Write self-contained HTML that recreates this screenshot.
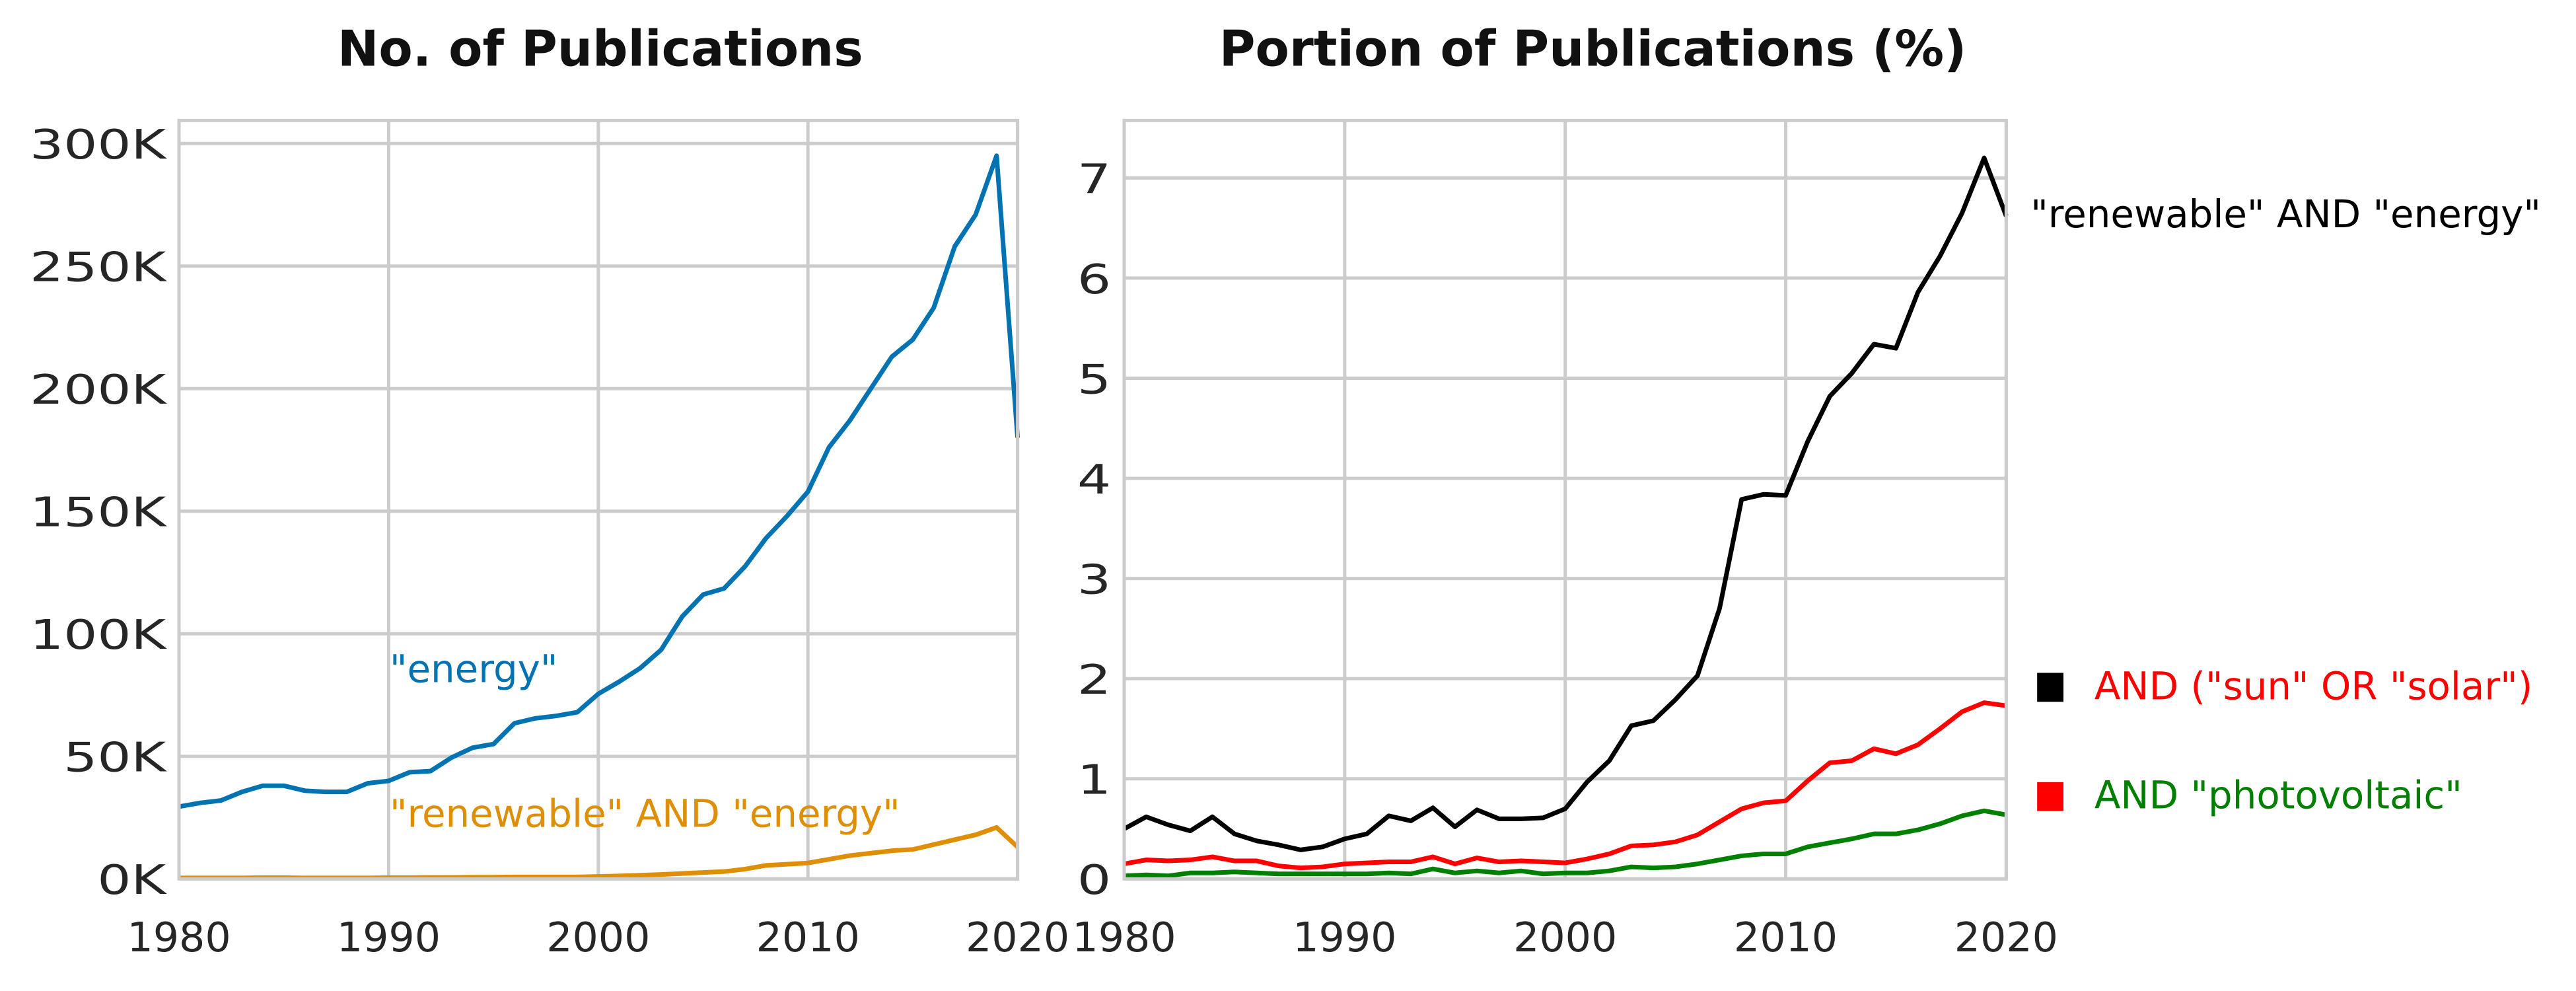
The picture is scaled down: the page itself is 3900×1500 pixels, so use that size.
<!DOCTYPE html>
<html><head><meta charset="utf-8"><style>
html,body{margin:0;padding:0;background:#fff;}
svg{display:block;font-family:"DejaVu Sans","Liberation Sans",sans-serif;}
</style></head><body>
<svg width="3900" height="1500" viewBox="0 0 3900 1500" xmlns="http://www.w3.org/2000/svg">
<g id="chart" transform="scale(0.9965)">
<text x="912" y="100" text-anchor="middle" font-size="75" font-weight="bold" fill="#111">No. of Publications</text>
<text x="2420" y="100" text-anchor="middle" font-size="75" font-weight="bold" fill="#111">Portion of Publications (%)</text>
<g id="left"></g>
<g id="right"></g>
</g>
</svg>
<script>
const years = [];
for (let y = 1980; y <= 2020; y++) years.push(y);
const energyK = [29.5,31,32,35.5,38,38,36,35.5,35.5,39,40,43.5,44,49.5,53.5,55,63.5,65.5,66.5,68,75.5,80.5,86,93.5,107,116,118.5,127.5,139,148,158,176,187,200,213,220,233,258,271,295,180];
const renewableK = [0.4,0.4,0.4,0.4,0.5,0.5,0.4,0.4,0.4,0.4,0.5,0.5,0.6,0.6,0.7,0.7,0.8,0.8,0.8,0.8,1,1.2,1.5,1.8,2.2,2.6,3,4,5.5,6,6.5,8,9.5,10.5,11.5,12,14,16,18,21,13];
const pctRenewable = [0.5,0.62,0.54,0.48,0.62,0.45,0.38,0.34,0.29,0.32,0.4,0.45,0.63,0.58,0.71,0.52,0.69,0.6,0.6,0.61,0.7,0.97,1.18,1.53,1.58,1.79,2.03,2.7,3.79,3.84,3.83,4.37,4.82,5.05,5.34,5.3,5.86,6.22,6.65,7.2,6.62];
const pctSolar = [0.15,0.19,0.18,0.19,0.22,0.18,0.18,0.13,0.11,0.12,0.15,0.16,0.17,0.17,0.22,0.15,0.21,0.17,0.18,0.17,0.16,0.2,0.25,0.33,0.34,0.37,0.44,0.57,0.7,0.76,0.78,0.98,1.16,1.18,1.3,1.25,1.34,1.5,1.67,1.76,1.73];
const pctPV = [0.03,0.04,0.03,0.06,0.06,0.07,0.06,0.05,0.05,0.05,0.05,0.05,0.06,0.05,0.1,0.06,0.08,0.06,0.08,0.05,0.06,0.06,0.08,0.12,0.11,0.12,0.15,0.19,0.23,0.25,0.25,0.32,0.36,0.4,0.45,0.45,0.49,0.55,0.63,0.68,0.64];
const xTicks = [1980,1990,2000,2010,2020];
const leftYTicks = [0,50,100,150,200,250,300];
const rightYTicks = [0,1,2,3,4,5,6,7];

const NS = "http://www.w3.org/2000/svg";
function mk(parent, tag, attrs){const e=document.createElementNS(NS,tag);for(const k in attrs)e.setAttribute(k,attrs[k]);parent.appendChild(e);return e;}

function drawPanel(g, x0, x1, yTop, yBot, yScale, yTicks, yFmt, series, prefix){
  const xs = v => x0 + (v-1980)/40*(x1-x0);
  yTicks.forEach(t=>{
    const l=mk(g,'line',{x1:x0,x2:x1,y1:yScale(t),y2:yScale(t),stroke:'#cccccc','stroke-width':5});
    
    
    const lx=x0-20, ly=yScale(t)+23;
    const tx=mk(g,'text',{x:0,y:0,'text-anchor':'end','font-size':62,fill:'#262626',transform:'translate('+lx+','+ly+') scale(1.3,1)'});
    tx.textContent=yFmt(t);
    
    
  });
  xTicks.forEach(t=>{
    const l=mk(g,'line',{x1:xs(t),x2:xs(t),y1:yTop,y2:yBot,stroke:'#cccccc','stroke-width':5});
    
    
    const tx=mk(g,'text',{x:xs(t),y:yBot+110,'text-anchor':'middle','font-size':62,fill:'#262626'});
    tx.textContent=String(t);
    
    
  });
  series.forEach(s=>{
    const d=s.vals.map((v,i)=>(i?'L':'M')+xs(years[i]).toFixed(1)+','+yScale(v).toFixed(1)).join(' ');
    const p=mk(g,'path',{d:d,fill:'none',stroke:s.color,'stroke-width':7,'stroke-linejoin':'round'});
    
    
  });
  const r=mk(g,'rect',{x:x0,y:yTop,width:x1-x0,height:yBot-yTop,fill:'none',stroke:'#cccccc','stroke-width':5});
  
  
}

const L=document.getElementById('left');
const lY = v => 1335 - v/300*1117;
drawPanel(L,272,1546,183,1335,lY,leftYTicks,t=>t+'K',[
  {vals:renewableK,color:'#de8f05',name:'renewable-energy-count-line'},
  {vals:energyK,color:'#0173b2',name:'energy-count-line'}
],'left');
const R=document.getElementById('right');
const rY = v => 1335 - v*152.1;
drawPanel(R,1708,3048,183,1335,rY,rightYTicks,t=>String(t),[
  {vals:pctPV,color:'#008000',name:'photovoltaic-share-line'},
  {vals:pctSolar,color:'#ff0000',name:'solar-share-line'},
  {vals:pctRenewable,color:'#000000',name:'renewable-share-line'}
],'right');

function label(x,y,txt,color,size,name){
  const t=mk(document.getElementById('chart'),'text',{x:x,y:y,'font-size':size,fill:color});
  t.textContent=txt;
  
  
}
label(592,1036,'"energy"','#0173b2',58,'energy-annotation');
label(592,1256,'"renewable" AND "energy"','#de8f05',58,'renewable-annotation');
label(3085,345,'"renewable" AND "energy"','#000000',58,'renewable-legend-label');
label(3182,1062,'AND ("sun" OR "solar")','#ff0000',58,'solar-legend-label');
label(3182,1228,'AND "photovoltaic"','#008000',58,'photovoltaic-legend-label');
const svg=document.getElementById('chart');
const s1=mk(svg,'rect',{x:3095,y:1022,width:40,height:44,fill:'#000'});


const s2=mk(svg,'rect',{x:3095,y:1188,width:40,height:44,fill:'#ff0000'});


</script>
</body></html>
